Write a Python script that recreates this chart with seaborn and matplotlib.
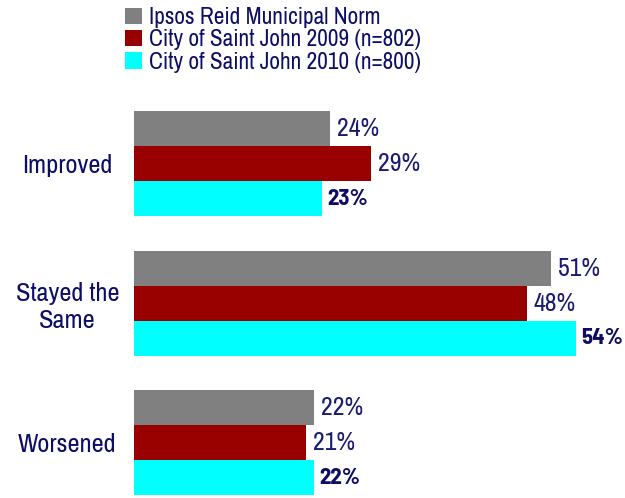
import matplotlib
matplotlib.use("Agg")
import matplotlib.pyplot as plt
import seaborn as sns
import pandas as pd

categories = ["Improved", "Stayed the\nSame", "Worsened"]
series = ["Ipsos Reid Municipal Norm", "City of Saint John 2009 (n=802)", "City of Saint John 2010 (n=800)"]
norm = [24, 51, 22]
sj2009 = [29, 48, 21]
sj2010 = [23, 54, 22]
colors = ["#808080", "#990000", "#00FFFF"]

rows = []
for s, vals in zip(series, [norm, sj2009, sj2010]):
    for c, v in zip(categories, vals):
        rows.append({"Category": c, "Series": s, "Value": v})
df = pd.DataFrame(rows)

sns.set_style("white")
plt.rcParams["font.family"] = ["Liberation Sans Narrow", "Archivo Narrow", "DejaVu Sans"]
navy = "#1a1a70"
dark = "#0d0d66"

W, H = 625, 498
fig = plt.figure(figsize=(W / 100, H / 100), dpi=100)
ax_top, ax_bot = 94, 498
ax = fig.add_axes([134 / W, 1 - ax_bot / H, (W - 134) / W, (ax_bot - ax_top) / H])

sns.barplot(data=df, y="Category", x="Value", hue="Series", palette=colors,
            orient="h", width=0.75, saturation=1, ax=ax, legend=True, gap=0,
            linewidth=0, edgecolor="none")

ax.set_xlim(0, 60)
unit = 139.5
ax.set_ylim(-0.5 + (ax_bot - ax_top) / unit, -0.5)

for i, cont in enumerate(ax.containers):
    labels = [f"{v:.0f}%" for v in cont.datavalues]
    if i == 2:
        ax.bar_label(cont, labels=labels, padding=3.5, fontsize=16.5, color=dark,
                     fontweight="bold",
                     family=["Liberation Sans Narrow", "Barlow Semi Condensed", "DejaVu Sans"])
    else:
        ax.bar_label(cont, labels=labels, padding=5, fontsize=18.5, color=navy)

ax.set_xlabel("")
ax.set_ylabel("")
ax.set_xticks([])
ax.tick_params(axis="y", length=0, pad=48)
for t in ax.get_yticklabels():
    t.set_ha("center")
    t.set_fontsize(19)
    t.set_color(dark)
for sp in ax.spines.values():
    sp.set_visible(False)

handles, labels = ax.get_legend_handles_labels()
ax.get_legend().remove()
fig.legend(handles, labels, loc="upper left", bbox_to_anchor=(116 / W, 1 + 2 / H),
           frameon=False, handlelength=0.7, handleheight=0.7, handletextpad=0.3,
           labelspacing=0.05, fontsize=16.8, labelcolor=dark, borderaxespad=0)

fig.savefig("out.png", dpi=100)
